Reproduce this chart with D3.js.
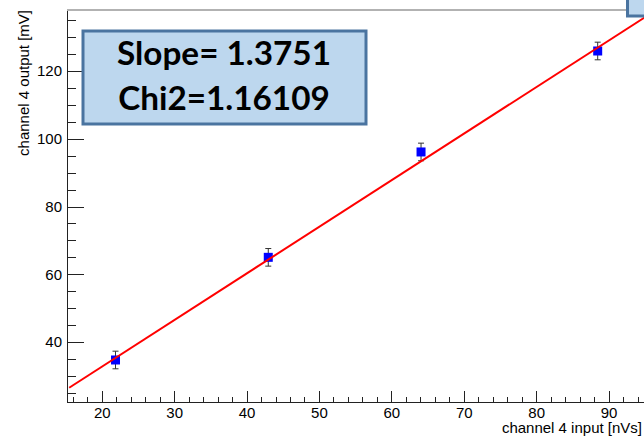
<!DOCTYPE html>
<html>
<head>
<meta charset="utf-8">
<script src="https://cdn.jsdelivr.net/npm/d3@7"></script>
<style>
  html, body { margin: 0; padding: 0; background: #fff; }
  svg { display: block; }
  .axis text { font-family: "Liberation Sans", Arial, sans-serif; font-size: 15px; fill: #000; }
  .axis path, .axis line { stroke: #222; shape-rendering: crispEdges; }
</style>
</head>
<body>
<svg id="chart" width="644" height="437"></svg>
<script>
// ---- data ----
const xInput = [21.9, 43.0, 64.1, 88.5];          // channel 4 input [nVs]
const yOutput = [34.7, 65.0, 96.1, 125.9];        // channel 4 output [mV]
const yError = [2.6, 2.6, 2.6, 2.6];              // error bars [mV]
const xTickValues = [20, 30, 40, 50, 60, 70, 80, 90];
const yTickValues = [40, 60, 80, 100, 120];
const fitSlope = 1.3751;
const fitIntercept = 5.2;
const fitRange = [15.5, 100];
const statsLines = ["Slope= 1.3751", "Chi2=1.16109"];
const xTitle = "channel 4 input [nVs]";
const yTitle = "channel 4 output [mV]";

// ---- layout ----
const W = 644, H = 437;
const svg = d3.select("#chart");
svg.append("rect").attr("width", W).attr("height", H).attr("fill", "#fff");

const x = d3.scaleLinear().domain([15.2, 100]).range([67, 67 + 84.8 * 7.24]);
const y = d3.scaleLinear().domain([22.3, 138]).range([402, 10]);

// minor ticks
const xMinor = d3.range(16, 100, 2).filter(v => v % 10 !== 0);
const yMinor = d3.range(25, 138, 5).filter(v => v % 20 !== 0);

// x axis
const gx = svg.append("g").attr("class", "axis").attr("transform", `translate(0,${y.range()[0]})`);
gx.call(d3.axisBottom(x).tickValues(xTickValues).tickFormat(d3.format("d"))
  .tickSizeInner(-11).tickSizeOuter(0).tickPadding(5));
svg.append("g").attr("class", "axis").attr("transform", `translate(0,${y.range()[0]})`)
  .call(d3.axisBottom(x).tickValues(xMinor).tickFormat("").tickSizeInner(-5.5).tickSizeOuter(0))
  .select(".domain").remove();

// y axis
const gy = svg.append("g").attr("class", "axis").attr("transform", `translate(${x.range()[0]},0)`);
gy.call(d3.axisLeft(y).tickValues(yTickValues).tickFormat(d3.format("d"))
  .tickSizeInner(-17).tickSizeOuter(0).tickPadding(5));
svg.append("g").attr("class", "axis").attr("transform", `translate(${x.range()[0]},0)`)
  .call(d3.axisLeft(y).tickValues(yMinor).tickFormat("").tickSizeInner(-8.5).tickSizeOuter(0))
  .select(".domain").remove();

// top frame line
svg.append("line")
  .attr("x1", x.range()[0]).attr("x2", W)
  .attr("y1", y.range()[1]).attr("y2", y.range()[1])
  .attr("stroke", "#666").attr("stroke-width", 1.2);

// axis titles
svg.append("text")
  .attr("transform", `translate(29,${y.range()[1]}) rotate(-90)`)
  .attr("text-anchor", "end")
  .style("font-family", "'Liberation Sans', Arial, sans-serif")
  .style("font-size", "15px")
  .text(yTitle);
svg.append("text")
  .attr("x", 642).attr("y", 433)
  .attr("text-anchor", "end")
  .style("font-family", "'Liberation Sans', Arial, sans-serif")
  .style("font-size", "15px")
  .text(xTitle);

// data
const pts = xInput.map((v, i) => ({ x: v, y: yOutput[i], e: yError[i] }));
const eb = svg.append("g").attr("stroke", "#333").attr("stroke-width", 1);
pts.forEach(p => {
  const cx = x(p.x), y1 = y(p.y + p.e), y2 = y(p.y - p.e);
  eb.append("line").attr("x1", cx).attr("x2", cx).attr("y1", y1).attr("y2", y2);
  eb.append("line").attr("x1", cx - 3).attr("x2", cx + 3).attr("y1", y1).attr("y2", y1);
  eb.append("line").attr("x1", cx - 3).attr("x2", cx + 3).attr("y1", y2).attr("y2", y2);
});
svg.append("g").selectAll("rect").data(pts).join("rect")
  .attr("x", d => x(d.x) - 4.5).attr("y", d => y(d.y) - 4.5)
  .attr("width", 9).attr("height", 9).attr("fill", "#0000ff");

// fit line
svg.append("line")
  .attr("x1", x(fitRange[0])).attr("y1", y(fitSlope * fitRange[0] + fitIntercept))
  .attr("x2", x(fitRange[1])).attr("y2", y(fitSlope * fitRange[1] + fitIntercept))
  .attr("stroke", "#ff0000").attr("stroke-width", 2);

// stats box
svg.append("rect").attr("x", 83).attr("y", 31).attr("width", 283).attr("height", 93)
  .attr("fill", "#bdd7ee").attr("stroke", "#4a74a0").attr("stroke-width", 3);
const t1 = svg.append("text").attr("x", 224).attr("y", 65).attr("text-anchor", "middle")
  .style("font-family", "Lato, 'Open Sans', sans-serif").style("font-weight", "bold")
  .style("font-size", "30px").text(statsLines[0]);
const w1 = t1.node().getComputedTextLength();
const fs = 30 * 214 / w1;
t1.style("font-size", fs + "px");
svg.append("text").attr("x", 224).attr("y", 110).attr("text-anchor", "middle")
  .style("font-family", "Lato, 'Open Sans', sans-serif").style("font-weight", "bold")
  .style("font-size", fs + "px").text(statsLines[1]);

// partially visible box top-right
svg.append("rect").attr("x", 627.5).attr("y", -5).attr("width", 30).attr("height", 21)
  .attr("fill", "#bdd7ee").attr("stroke", "#4a74a0").attr("stroke-width", 3);
</script>
</body>
</html>
